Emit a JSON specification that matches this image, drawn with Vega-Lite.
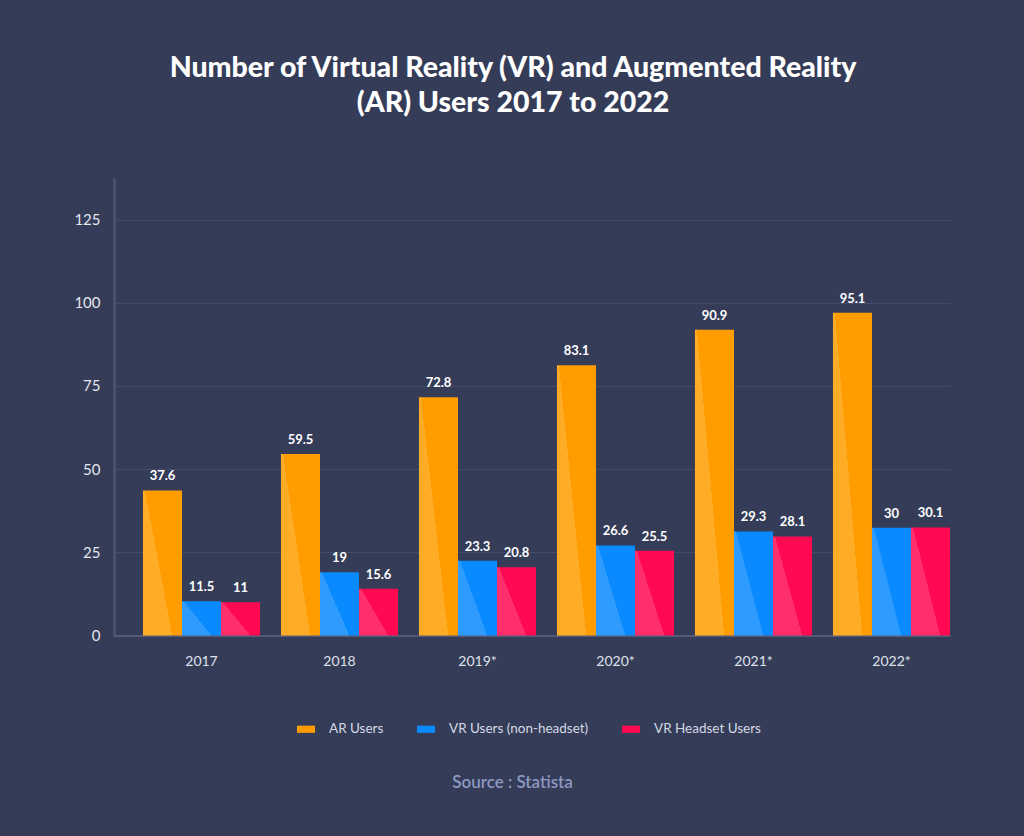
{
  "$schema": "https://vega.github.io/schema/vega-lite/v6.json",
  "width": 836,
  "height": 457.6,
  "autosize": {"type": "none"},
  "padding": {"left": 114, "top": 178, "right": 74, "bottom": 200},
  "background": "#343c58",
  "config": {"view": {"stroke": null}, "font": "Lato"},
  "title": {
    "text": ["Number of Virtual Reality (VR) and Augmented Reality", "(AR) Users 2017 to 2022"],
    "fontSize": 28.5,
    "fontWeight": 900,
    "color": "#ffffff",
    "lineHeight": 35,
    "anchor": "middle",
    "dx": -19,
    "offset": 60
  },
  "data": {
    "values": [
      {"year": "2017", "series": "AR Users", "users": "37.6", "bar": 43.6},
      {"year": "2017", "series": "VR Users (non-headset)", "users": "11.5", "bar": 10.3},
      {"year": "2017", "series": "VR Headset Users", "users": "11", "bar": 10.0},
      {"year": "2018", "series": "AR Users", "users": "59.5", "bar": 54.6},
      {"year": "2018", "series": "VR Users (non-headset)", "users": "19", "bar": 19.0},
      {"year": "2018", "series": "VR Headset Users", "users": "15.6", "bar": 14.1},
      {"year": "2019*", "series": "AR Users", "users": "72.8", "bar": 71.6},
      {"year": "2019*", "series": "VR Users (non-headset)", "users": "23.3", "bar": 22.5},
      {"year": "2019*", "series": "VR Headset Users", "users": "20.8", "bar": 20.5},
      {"year": "2020*", "series": "AR Users", "users": "83.1", "bar": 81.2},
      {"year": "2020*", "series": "VR Users (non-headset)", "users": "26.6", "bar": 27.1},
      {"year": "2020*", "series": "VR Headset Users", "users": "25.5", "bar": 25.5},
      {"year": "2021*", "series": "AR Users", "users": "90.9", "bar": 91.9},
      {"year": "2021*", "series": "VR Users (non-headset)", "users": "29.3", "bar": 31.3},
      {"year": "2021*", "series": "VR Headset Users", "users": "28.1", "bar": 29.8},
      {"year": "2022*", "series": "AR Users", "users": "95.1", "bar": 97.0},
      {"year": "2022*", "series": "VR Users (non-headset)", "users": "30", "bar": 32.4},
      {"year": "2022*", "series": "VR Headset Users", "users": "30.1", "bar": 32.5}
    ]
  },
  "encoding": {
    "x": {
      "field": "year",
      "type": "nominal",
      "sort": null,
      "scale": {"paddingInner": 0.152, "paddingOuter": 0.105, "align": 1},
      "axis": {
        "labelAngle": 0,
        "labelFontSize": 14,
        "labelColor": "#dfe2ea",
        "labelPadding": 19,
        "ticks": false,
        "domainColor": "#5a627f",
        "domainWidth": 1.5,
        "title": "Source : Statista",
        "titleX": 398,
        "titleY": 139,
        "titleAnchor": "middle",
        "titleAlign": "center",
        "titleColor": "#8d99c2",
        "titleFontSize": 17,
        "titleFontWeight": 600
      }
    },
    "xOffset": {
      "field": "series",
      "type": "nominal",
      "sort": ["AR Users", "VR Users (non-headset)", "VR Headset Users"],
      "scale": {"paddingInner": 0, "paddingOuter": 0}
    },
    "y": {
      "field": "bar",
      "type": "quantitative",
      "scale": {"domain": [0, 137.5], "nice": false},
      "axis": {
        "values": [0, 25, 50, 75, 100, 125],
        "title": null,
        "grid": true,
        "gridColor": "#434b68",
        "gridWidth": 1,
        "domainColor": "#505876",
        "domainWidth": 2,
        "ticks": false,
        "labelPadding": 14,
        "labelFontSize": 15,
        "labelColor": "#e4e6ee"
      }
    }
  },
  "layer": [
    {
      "mark": {"type": "bar"},
      "encoding": {
        "color": {
          "field": "series",
          "type": "nominal",
          "scale": {
            "domain": ["AR Users", "VR Users (non-headset)", "VR Headset Users"],
            "range": ["#ff9d00", "#0a8aff", "#ff0a52"]
          },
          "legend": {
            "title": null,
            "orient": "none",
            "legendX": 183,
            "legendY": 542,
            "direction": "horizontal",
            "symbolType": "M-1,-0.4L1,-0.4L1,0.4L-1,0.4Z",
            "symbolSize": 324,
            "symbolStrokeWidth": 0,
            "labelFontSize": 13.5,
            "labelColor": "#d5d9e4",
            "labelOffset": 14,
            "columnPadding": 33
          }
        }
      }
    },
    {
      "mark": {
        "type": "bar",
        "fill": {
          "gradient": "linear",
          "x1": -0.1,
          "y1": 0.85,
          "x2": 0.9,
          "y2": 0.15,
          "stops": [
            {"offset": 0, "color": "rgba(255,255,255,0.15)"},
            {"offset": 0.5, "color": "rgba(255,255,255,0.15)"},
            {"offset": 0.5, "color": "rgba(255,255,255,0)"},
            {"offset": 1, "color": "rgba(255,255,255,0)"}
          ]
        }
      }
    },
    {
      "mark": {
        "type": "text",
        "baseline": "bottom",
        "dy": -7,
        "fontSize": 13,
        "fontWeight": "bold",
        "color": "#ffffff"
      },
      "encoding": {"text": {"field": "users", "type": "nominal"}}
    }
  ]
}
